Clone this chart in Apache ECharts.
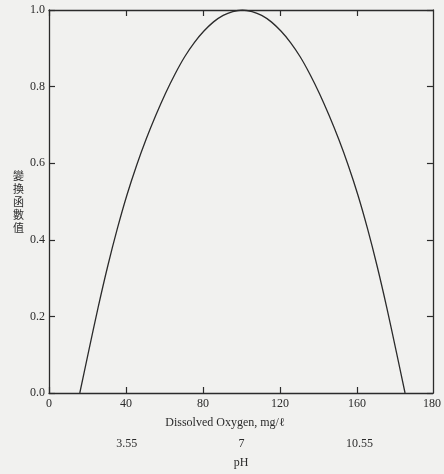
<!DOCTYPE html>
<html>
<head>
<meta charset="utf-8">
<script src="https://cdn.jsdelivr.net/npm/echarts@6/dist/echarts.min.js"></script>
<style>
html, body { margin: 0; padding: 0; background: #f1f1ef; }
#chart { width: 444px; height: 474px; }
</style>
</head>
<body>
<div id="chart"></div>
<script>
// ------------------ data ------------------
var doValues = [16, 20.5, 25.5, 30.5, 35.5, 40.5, 45.5, 50.5, 55.5, 60.5, 65.5, 70.5, 75.5, 80.5, 85.5, 90.5, 95.5,
    100.5, 105.5, 110.5, 115.5, 120.5, 125.5, 130.5, 135.5, 140.5, 145.5, 150.5, 155.5, 160.5, 165.5, 170.5, 175.5, 180.5, 185];
var fnValues = [0, 0.107, 0.223, 0.331, 0.429, 0.517, 0.594, 0.663, 0.725, 0.782, 0.833, 0.878, 0.915, 0.945, 0.969, 0.986, 0.996,
    1.0, 0.996, 0.986, 0.969, 0.945, 0.915, 0.878, 0.833, 0.782, 0.725, 0.663, 0.594, 0.517, 0.429, 0.331, 0.223, 0.107, 0];

var xTickValues = [0, 40, 80, 120, 160];
var xLabelValues = [0, 40, 80, 120, 160, 199];   // last label printed "180" at the right edge
var xLabelTexts = ['0', '40', '80', '120', '160', '180'];
var phLabelValues = [3.55, 7, 10.55];
var phLabelTexts = ['3.55', '7', '10.55'];

var SERIF = "'Liberation Serif', 'DejaVu Serif', serif";
var INK = '#2b2b2b';

var myChart = echarts.init(document.getElementById('chart'), null, {renderer: 'canvas'});

var points = doValues.map(function (x, i) {
    return [x, fnValues[i]];
});

var axisLineStyle = {onZero: false, lineStyle: {color: INK, width: 1.3}};
var tickStyle = {color: INK, width: 1.2};

var option = {
    backgroundColor: '#f1f1ef',
    animation: false,
    grid: {left: 49, right: 6, top: 10, bottom: 78},
    xAxis: [
        {
            type: 'value',
            position: 'bottom',
            min: 0,
            max: 199.5,
            axisLine: axisLineStyle,
            axisTick: {inside: true, length: 6, customValues: xTickValues, lineStyle: tickStyle},
            axisLabel: {
                customValues: xLabelValues,
                margin: 5,
                color: INK,
                fontFamily: SERIF,
                fontSize: 12,
                formatter: function (v) {
                    var i = xLabelValues.indexOf(v);
                    return i >= 0 ? xLabelTexts[i] : '';
                }
            },
            splitLine: {show: false},
            name: 'Dissolved Oxygen, mg/ℓ',
            nameLocation: 'middle',
            nameGap: 24,
            nameTextStyle: {color: INK, fontFamily: SERIF, fontSize: 12, padding: [0, 32, 0, 0]}
        },
        {
            type: 'value',
            position: 'top',
            min: 0,
            max: 199.5,
            axisLine: axisLineStyle,
            axisTick: {inside: true, length: 6, customValues: xTickValues, lineStyle: tickStyle},
            axisLabel: {show: false},
            splitLine: {show: false}
        },
        {
            type: 'value',
            position: 'bottom',
            offset: 40,
            min: 1.214,
            max: 12.757,
            axisLine: {show: false, onZero: false},
            axisTick: {show: false},
            axisLabel: {
                customValues: phLabelValues,
                margin: 5,
                color: INK,
                fontFamily: SERIF,
                fontSize: 12,
                formatter: function (v) {
                    var i = phLabelValues.indexOf(v);
                    return i >= 0 ? phLabelTexts[i] : '';
                }
            },
            splitLine: {show: false},
            name: 'pH',
            nameLocation: 'middle',
            nameGap: 24,
            nameTextStyle: {color: INK, fontFamily: SERIF, fontSize: 12}
        }
    ],
    yAxis: [
        {
            type: 'value',
            position: 'left',
            min: 0,
            max: 1,
            interval: 0.2,
            axisLine: axisLineStyle,
            axisTick: {inside: true, length: 6, lineStyle: tickStyle},
            axisLabel: {
                margin: 4,
                color: INK,
                fontFamily: SERIF,
                fontSize: 12,
                formatter: function (v) {
                    return v.toFixed(1);
                }
            },
            splitLine: {show: false},
            name: '變\n換\n函\n數\n值',
            nameLocation: 'middle',
            nameRotate: 0,
            nameGap: 25,
            nameTextStyle: {color: INK, fontFamily: "'Noto Sans CJK TC', sans-serif", fontSize: 11, lineHeight: 13}
        },
        {
            type: 'value',
            position: 'right',
            min: 0,
            max: 1,
            interval: 0.2,
            axisLine: axisLineStyle,
            axisTick: {inside: true, length: 6, lineStyle: tickStyle},
            axisLabel: {show: false},
            splitLine: {show: false}
        }
    ],
    series: [{
        type: 'line',
        xAxisIndex: 0,
        yAxisIndex: 0,
        data: points,
        smooth: 0.3,
        showSymbol: false,
        symbol: 'none',
        lineStyle: {color: INK, width: 1.3}
    }]
};
myChart.setOption(option);
</script>
</body>
</html>
